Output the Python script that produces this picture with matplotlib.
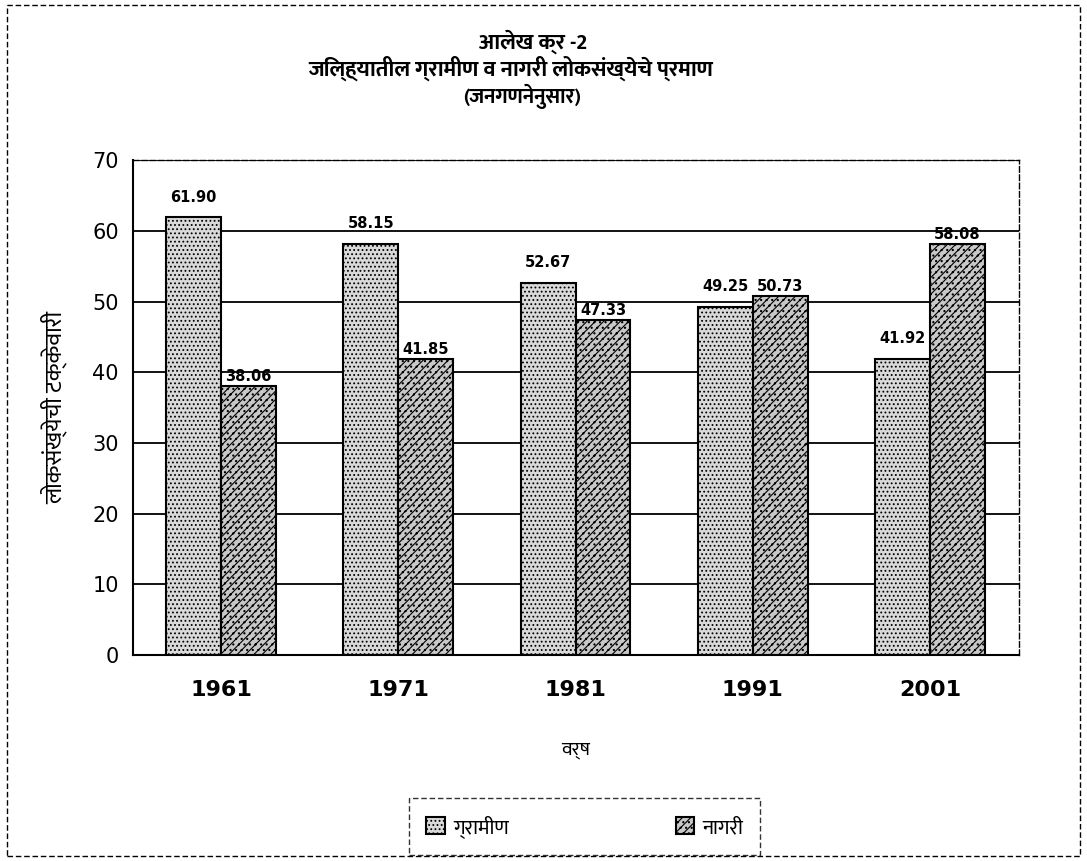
"""
Rural vs urban population share of the district, census years 1961-2001.
Recreates a scanned Marathi bar chart (आलेख क्र -2).
"""

import matplotlib
matplotlib.use("Agg")
import matplotlib.pyplot as plt
from matplotlib import font_manager
from matplotlib.ft2font import FT2Font
from matplotlib.patches import Rectangle

years = ["1961", "1971", "1981", "1991", "2001"]
rural = [61.90, 58.15, 52.67, 49.25, 41.92]
urban = [38.06, 41.85, 47.33, 50.73, 58.08]
series_names = ["ग्रामीण", "नागरी"]

title_lines = ["आलेख क्र -2",
               "जिल्ह्यातील ग्रामीण व नागरी लोकसंख्येचे प्रमाण",
               "(जनगणनेनुसार)"]
y_title = "लोकसंख्येची टक्केवारी"
x_title = "वर्ष"


def find_devanagari_font():
    # look for any installed font that actually has Devanagari glyphs
    preferred = []
    others = []
    for path in font_manager.findSystemFonts():
        try:
            cmap = FT2Font(path).get_charmap()
        except Exception:
            continue
        if 0x0917 in cmap and 0x094D in cmap:
            name = font_manager.FontProperties(fname=path).get_name()
            if "Bold" in path or "bold" in path:
                preferred.append(name)
            else:
                others.append(name)
    names = preferred + others
    return names[0] if names else None


deva = find_devanagari_font()
families = ([deva] if deva else []) + ["DejaVu Sans"]
plt.rcParams["font.family"] = families
plt.rcParams["hatch.linewidth"] = 0.8

fig = plt.figure(figsize=(10.87, 8.61), dpi=100)
ax = fig.add_axes([0.122, 0.239, 0.815, 0.575])

x = list(range(len(years)))
width = 0.31
rural_x = [i - width / 2 for i in x]
urban_x = [i + width / 2 for i in x]

ax.set_axisbelow(True)
ax.grid(axis="y", color="black", linewidth=1.3)

b1 = ax.bar(rural_x, rural, width, facecolor="#d9d9d9", edgecolor="black",
            hatch="....", linewidth=1.5)
b2 = ax.bar(urban_x, urban, width, facecolor="#c8c8c8", edgecolor="black",
            hatch="////...", linewidth=1.5)

for xi, v in zip(rural_x, rural):
    ax.text(xi, v + 1.8, f"{v:.2f}", ha="center", va="bottom", fontsize=10.5,
            fontweight="bold", family="DejaVu Sans")
for xi, v in zip(urban_x, urban):
    ax.text(xi, v + 0.3, f"{v:.2f}", ha="center", va="bottom", fontsize=10.5,
            fontweight="bold", family="DejaVu Sans")

ax.set_xlim(-0.5, 4.5)
ax.set_ylim(0, 70)
ax.set_yticks(range(0, 71, 10))
ax.set_xticks(x)
ax.set_xticklabels(years, fontsize=16, family="DejaVu Sans", fontweight="bold")
ax.tick_params(axis="y", labelsize=15, length=0, pad=10)
ax.tick_params(axis="x", length=0, pad=18)
for lab in ax.get_yticklabels():
    lab.set_family("DejaVu Sans")

for side in ["top", "right"]:
    ax.spines[side].set_linestyle((0, (4, 2)))
    ax.spines[side].set_linewidth(1.0)
ax.spines["left"].set_linewidth(1.5)
ax.spines["bottom"].set_linewidth(1.5)

ax.set_ylabel(y_title, fontsize=17, labelpad=18)
ax.set_xlabel(x_title, fontsize=14, labelpad=30)

fig.text(0.49, 0.952, title_lines[0], ha="center", va="center", fontsize=16,
         fontweight="bold")
fig.text(0.47, 0.921, title_lines[1], ha="center", va="center", fontsize=16,
         fontweight="bold")
fig.text(0.48, 0.888, title_lines[2], ha="center", va="center", fontsize=15,
         fontweight="bold")

# legend in a dashed box at the bottom
leg = fig.legend([b1, b2], series_names, loc="center",
                 bbox_to_anchor=(0.538, 0.040), ncol=2, fontsize=15,
                 frameon=True, fancybox=False, handlelength=0.9,
                 handleheight=0.9, columnspacing=8.0, borderpad=0.8,
                 borderaxespad=0, handletextpad=0.4)
leg.get_frame().set_edgecolor("black")
leg.get_frame().set_linestyle((0, (4, 2)))
leg.get_frame().set_linewidth(1.0)

# dashed border around the whole chart area, as in the scan
fig.add_artist(Rectangle((0.006, 0.006), 0.988, 0.988, transform=fig.transFigure,
                         fill=False, edgecolor="black", linewidth=1.0,
                         linestyle=(0, (4, 2))))

fig.savefig("out.png", dpi=100)
